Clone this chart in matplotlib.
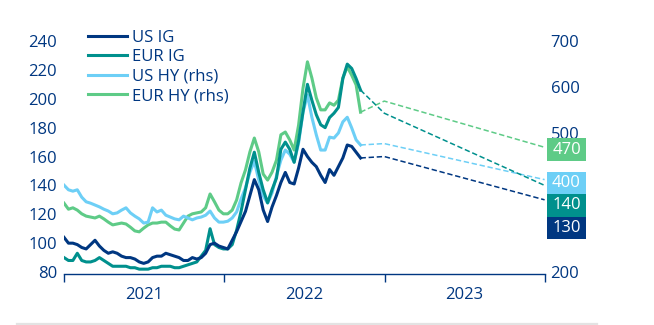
import numpy as np
import pandas as pd
import matplotlib
matplotlib.use("Agg")
import matplotlib.pyplot as plt
from matplotlib.lines import Line2D
from matplotlib.patches import Rectangle
from matplotlib.transforms import blended_transform_factory, ScaledTranslation

plt.rcParams['font.family'] = ['Open Sans', 'DejaVu Sans']

# Spread history (bps), roughly every 10 days from Jan 2021 to early Nov 2022
dates = pd.date_range("2021-01-01", "2022-11-07", periods=68)

us_ig = [104, 100, 100, 99, 97, 96, 99, 102, 98, 95,
         93, 94, 93, 91, 90, 90, 89, 87, 86, 87,
         90, 91, 91, 93, 92, 91, 90, 88, 88, 90,
         89, 90, 93, 99, 100, 98, 97, 96, 102, 108,
         115, 122, 133, 144, 137, 123, 115, 125, 133, 142,
         149, 142, 141, 152, 165, 160, 156, 153, 147, 142,
         151, 147, 153, 159, 168, 167, 163, 159]

eur_ig = [90, 88, 88, 93, 88, 87, 87, 88, 90, 88,
          86, 84, 84, 84, 84, 83, 83, 82, 82, 82,
          83, 83, 84, 84, 84, 83, 83, 84, 85, 86,
          87, 91, 95, 110, 99, 97, 96, 96, 99, 109,
          122, 137, 152, 163, 149, 137, 128, 137, 145, 165,
          170, 165, 156, 171, 191, 210, 199, 189, 182, 180,
          187, 190, 194, 214, 224, 221, 214, 206]

us_hy = [388, 378, 375, 378, 362, 352, 349, 345, 341, 336,
         332, 326, 328, 334, 339, 328, 321, 315, 306, 308,
         339, 330, 334, 323, 319, 315, 313, 321, 317, 313,
         317, 319, 323, 332, 317, 308, 308, 310, 317, 330,
         358, 382, 416, 440, 399, 365, 349, 371, 408, 442,
         464, 455, 438, 479, 546, 583, 535, 497, 464, 464,
         492, 490, 501, 525, 535, 512, 486, 475]

eur_hy = [349, 336, 339, 334, 326, 321, 319, 317, 321, 315,
          308, 302, 304, 306, 304, 297, 289, 287, 295, 302,
          306, 306, 308, 308, 300, 293, 291, 306, 321, 326,
          328, 330, 339, 369, 352, 334, 326, 326, 334, 356,
          393, 421, 460, 490, 460, 412, 399, 416, 442, 497,
          503, 486, 464, 518, 598, 655, 620, 577, 551, 551,
          566, 561, 572, 620, 644, 626, 605, 546]

# Forecasts for end-2022 and end-2023
fc_dates = pd.to_datetime(["2022-12-31", "2023-12-31"])
us_ig_fc = [160, 130]
eur_ig_fc = [190, 140]
us_hy_fc = [478, 400]
eur_hy_fc = [570, 470]

NAVY = '#003781'
TEAL = '#00908d'
LBLUE = '#6dcff6'
GREEN = '#5ecb87'
FS = 12

fig = plt.figure(figsize=(6.54, 3.25), dpi=100)
ax = fig.add_axes([0.0979, 0.1563, 0.7355, 0.7175])
ax2 = ax.twinx()
# keep the IG lines drawn above the HY lines
ax.set_zorder(ax2.get_zorder() + 1)
ax.patch.set_visible(False)

lw = 2.2
h_usig, = ax.plot(dates, us_ig, color=NAVY, lw=lw, label='US IG', zorder=4)
h_eurig, = ax.plot(dates, eur_ig, color=TEAL, lw=lw, label='EUR IG', zorder=3)
h_ushy, = ax2.plot(dates, us_hy, color=LBLUE, lw=lw, label='US HY (rhs)', zorder=3)
h_eurhy, = ax2.plot(dates, eur_hy, color=GREEN, lw=lw, label='EUR HY (rhs)', zorder=2)

# dashed forecast paths from the last observation
dash = dict(lw=1.1, ls=(0, (3.5, 1.8)))
fc_x = [dates[-1]] + list(fc_dates)
ax.plot(fc_x, [us_ig[-1]] + us_ig_fc, color=NAVY, **dash)
ax.plot(fc_x, [eur_ig[-1]] + eur_ig_fc, color=TEAL, **dash)
ax2.plot(fc_x, [us_hy[-1]] + us_hy_fc, color=LBLUE, **dash)
ax2.plot(fc_x, [eur_hy[-1]] + eur_hy_fc, color=GREEN, **dash)

ax.set_xlim(pd.Timestamp("2021-01-01"), pd.Timestamp("2024-01-01"))
ax.set_ylim(78.5, 240)
ax2.set_ylim(195.3, 700)
ax.set_yticks([80, 100, 120, 140, 160, 180, 200, 220, 240])
# 300 and 400 sit behind the value boxes
ax2.set_yticks([200, 500, 600, 700])

for a in (ax, ax2):
    for s in ('top', 'left', 'right'):
        a.spines[s].set_visible(False)
    a.spines['bottom'].set_visible(a is ax)
ax.spines['bottom'].set_color(NAVY)
ax.spines['bottom'].set_linewidth(1.0)

ax.tick_params(axis='y', length=0, pad=5, labelsize=FS, labelcolor=NAVY)
ax2.tick_params(axis='y', length=0, pad=4, labelsize=FS, labelcolor=NAVY)

year_edges = pd.to_datetime(["2021-01-01", "2022-01-01", "2023-01-01", "2024-01-01"])
year_mids = pd.to_datetime(["2021-07-02", "2022-07-02", "2023-07-02"])
ax.set_xticks(year_edges)
ax.set_xticklabels([])
ax.set_xticks(year_mids, minor=True)
ax.set_xticklabels(['2021', '2022', '2023'], minor=True)
ax.tick_params(axis='x', which='major', direction='out', length=6, width=1, color=NAVY)
ax.tick_params(axis='x', which='minor', length=0, pad=9, labelsize=FS, labelcolor=NAVY)

# value boxes at the right edge, anchored to each end-2023 forecast
def value_box(a, value, dy_px, color):
    trans = blended_transform_factory(a.transAxes, a.transData)
    tr = fig.dpi_scale_trans + ScaledTranslation(1.0, value, trans)
    rect = Rectangle((0.02, dy_px / 100), 0.39, 0.225, transform=tr,
                     facecolor=color, edgecolor='none', clip_on=False, zorder=10)
    ax.add_artist(rect)
    ax.text(0.215, dy_px / 100 + 0.1125, str(value), transform=tr, color='white',
            fontsize=FS, ha='center', va='center', zorder=11, clip_on=False)

value_box(ax2, eur_hy_fc[-1], -13.5, GREEN)
value_box(ax2, us_hy_fc[-1], -14.8, LBLUE)
value_box(ax, eur_ig_fc[-1], -31.2, TEAL)
value_box(ax, us_ig_fc[-1], -39.3, NAVY)

leg = fig.legend(handles=[h_usig, h_eurig, h_ushy, h_eurhy], loc='upper left',
                 bbox_to_anchor=(0.1346, 0.909), frameon=False, fontsize=FS,
                 handlelength=2.35, handletextpad=0.3, labelspacing=0.21,
                 borderpad=0, borderaxespad=0)
for t in leg.get_texts():
    t.set_color(NAVY)

# thin separator along the bottom
fig.add_artist(Line2D([17 / 654, 597 / 654], [0.0025, 0.0025], transform=fig.transFigure,
                      color='#e3e3e3', lw=1.6))

fig.savefig('out.png', dpi=100)
